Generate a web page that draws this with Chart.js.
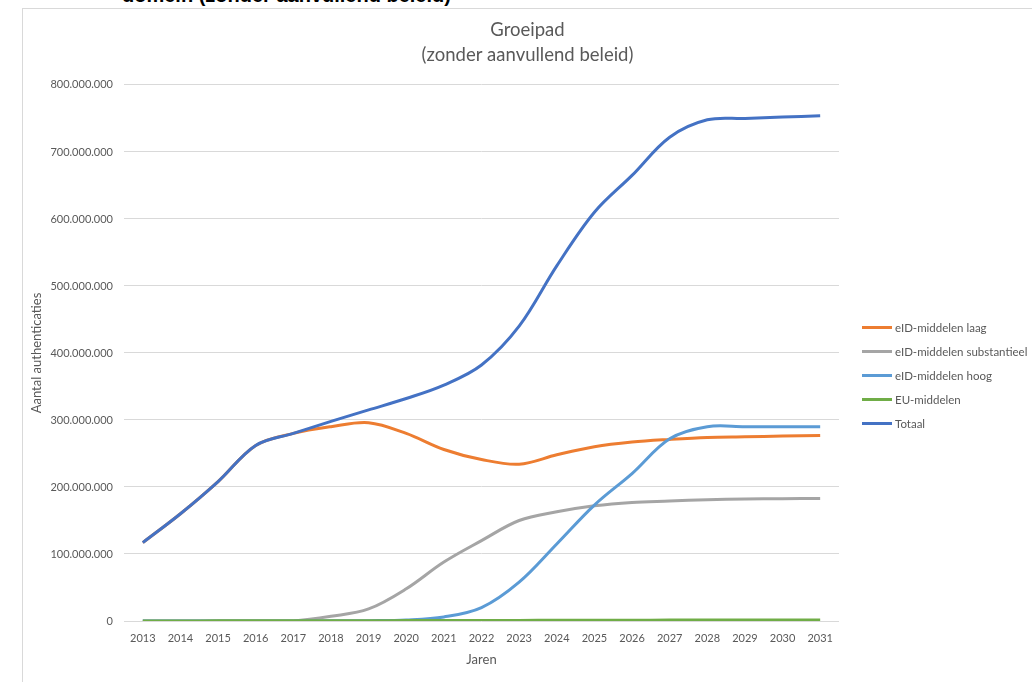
<!DOCTYPE html>
<html>
<head>
<meta charset="utf-8">
<script src="https://cdn.jsdelivr.net/npm/chart.js@4"></script>
<style>
  html, body { margin: 0; padding: 0; background: #fff; overflow: hidden; }
  body { width: 1032px; height: 682px; position: relative; font-family: Lato, "Open Sans", sans-serif; }
  .kop {
    position: absolute; left: 122px; top: -15px;
    font: bold 20px/20px "Liberation Sans", Arial, sans-serif; color: #000; white-space: nowrap;
  }
  .kader {
    position: absolute; left: 22px; top: 8px; width: 1020px; height: 690px;
    border: 1px solid #d9d9d9; box-sizing: border-box;
  }
  #chart { position: absolute; left: 0; top: 0; }
  .legenda { position: absolute; left: 862px; top: 315px; }
  .legenda div { height: 24px; display: flex; align-items: center; font-size: 11.5px; color: #595959; white-space: nowrap; }
  .legenda span { display: inline-block; width: 30px; height: 3px; margin-right: 3px; }
</style>
</head>
<body>
<div class="kop">domein (zonder aanvullend beleid)</div>
<div class="kader">
  <canvas id="chart" width="1009" height="673"></canvas>
</div>
<div class="legenda" id="legenda"></div>

<script>
// Jaren op de x-as
const jaren = ["2013", "2014", "2015", "2016", "2017", "2018", "2019", "2020", "2021", "2022",
  "2023", "2024", "2025", "2026", "2027", "2028", "2029", "2030", "2031"];

// Waarden (aantal authenticaties)
const laag = [117e6, 160e6, 208e6, 262e6, 280e6, 290e6, 296e6, 280e6, 256e6, 241e6,
  234e6, 248e6, 260e6, 267e6, 271e6, 274e6, 275e6, 276e6, 277e6];
const substantieel = [0, 0, 0, 0, 0, 7e6, 18e6, 48e6, 88e6, 120e6,
  150e6, 163e6, 172e6, 177e6, 179e6, 181e6, 182e6, 182.5e6, 183e6];
const hoog = [0, 0, 0, 0, 0, 0.2e6, 0.5e6, 1.5e6, 6e6, 20e6,
  58e6, 115e6, 173e6, 220e6, 272e6, 290e6, 290e6, 290e6, 290e6];
const euMiddelen = [0.1e6, 0.1e6, 0.2e6, 0.2e6, 0.3e6, 0.4e6, 0.5e6, 0.6e6, 0.7e6, 0.8e6,
  0.9e6, 1.0e6, 1.1e6, 1.2e6, 1.4e6, 1.5e6, 1.5e6, 1.6e6, 1.6e6];
const totaal = [117e6, 160e6, 208e6, 262e6, 280e6, 298e6, 315e6, 332e6, 352e6, 382e6,
  440e6, 530e6, 610e6, 665e6, 722e6, 748e6, 750e6, 752e6, 754e6];

const yTicks = { min: 0, max: 800e6, step: 100e6 };

const reeksen = [
  { label: "eID-middelen laag", data: laag, color: "#ED7D31", order: 5 },
  { label: "eID-middelen substantieel", data: substantieel, color: "#A5A5A5", order: 4 },
  { label: "eID-middelen hoog", data: hoog, color: "#5B9BD5", order: 3 },
  { label: "EU-middelen", data: euMiddelen, color: "#70AD47", order: 2 },
  { label: "Totaal", data: totaal, color: "#4472C4", order: 1 }
];

// Getal met punt als duizendtal-scheiding
function fmt(v) {
  return String(Math.round(v)).replace(/\B(?=(\d{3})+(?!\d))/g, ".");
}

const grijs = "#595959";
const font = "Lato, 'Open Sans', sans-serif";

new Chart(document.getElementById("chart"), {
  type: "line",
  data: {
    labels: jaren,
    datasets: reeksen.map(r => ({
      label: r.label,
      data: r.data,
      borderColor: r.color,
      backgroundColor: r.color,
      borderWidth: 3,
      pointRadius: 0,
      tension: 0.35,
      fill: false,
      order: r.order
    }))
  },
  options: {
    responsive: false,
    animation: false,
    plugins: {
      legend: { display: false },
      tooltip: { enabled: false },
      title: {
        display: true,
        text: ["Groeipad", "(zonder aanvullend beleid)"],
        color: grijs,
        font: { family: font, size: 18.5, weight: "normal", lineHeight: 1.35 },
        padding: { top: 9, bottom: 17 }
      }
    },
    scales: {
      x: {
        offset: true,
        grid: { display: false },
        border: { display: false },
        ticks: { color: grijs, font: { family: font, size: 11 }, padding: 3, maxRotation: 0, autoSkip: false },
        title: { display: true, text: "Jaren", color: grijs, font: { family: font, size: 13 }, padding: { top: 0, bottom: 14 } },
        afterFit: s => { s.height = 61; }
      },
      y: {
        min: yTicks.min,
        max: yTicks.max,
        grid: { color: "#d9d9d9", drawTicks: false },
        border: { display: false },
        ticks: { stepSize: yTicks.step, color: grijs, font: { family: font, size: 11 }, padding: 11, callback: v => fmt(v) },
        title: { display: true, text: "Aantal authenticaties", color: grijs, font: { family: font, size: 13 }, padding: { top: 6, bottom: 0 } },
        afterFit: s => { s.width = 101; }
      },
      // lege ruimte rechts voor de legenda
      ruimte: {
        position: "right",
        display: true,
        grid: { display: false },
        border: { display: false },
        ticks: { display: false },
        afterFit: s => { s.width = 193; }
      }
    }
  }
});

// Legenda rechts
const legenda = document.getElementById("legenda");
reeksen.forEach(r => {
  const d = document.createElement("div");
  d.innerHTML = `<span style="background:${r.color}"></span>${r.label}`;
  legenda.appendChild(d);
});
</script>
</body>
</html>
